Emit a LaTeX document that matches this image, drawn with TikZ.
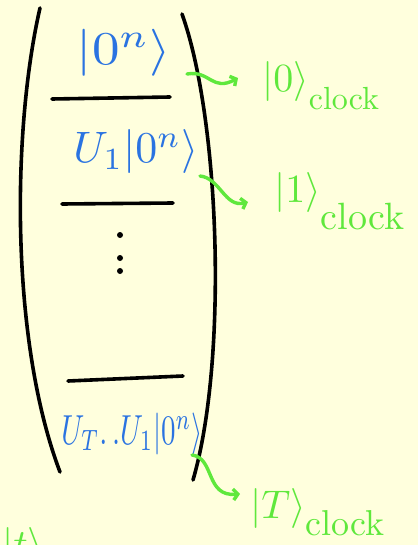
\documentclass[tikz,border=0pt]{standalone}
\usepackage{amsmath,amssymb}
\usepackage{graphicx}
\usepackage{tikz}
\usetikzlibrary{arrows.meta,positioning,calc}
\definecolor{paper}{RGB}{255,255,221}
\definecolor{ketblue}{RGB}{42,115,225}
\definecolor{clkgreen}{RGB}{95,232,60}
\newcommand{\hand}[3]{\scalebox{#1}[#2]{$#3$}}
\newcommand{\clockket}[3]{\hand{4}{4}{|#1\rangle}\raisebox{#2}{\scalebox{#3}{clock}}}
\tikzset{
  ket/.style={text=ketblue, inner sep=0pt},
  clk/.style={text=clkgreen, inner sep=0pt},
  wall/.style={line width=3.6pt, line cap=round},
  bar/.style={line width=3.6pt, line cap=round},
  arr/.style={clkgreen, line width=3.4pt, line cap=round, -{Straight Barb[length=4.5pt, width=11pt]}}}

\begin{document}
\begin{tikzpicture}[x=1pt, y=-1pt]
  \useasboundingbox (0,0) rectangle (418,545);
  \fill[paper] (0,0) rectangle (418,545);
  \clip (0,0) rectangle (418,545);
  \draw[wall] (40,8) .. controls (12,130) and (10,340) .. (60,472);
  \draw[wall] (182,14) .. controls (220,120) and (228,360) .. (193,480);
  \draw[bar] (52,99) -- (170,97);
  \draw[bar] (62,204) -- (173,203);
  \draw[bar] (68,381) -- (183,376);
  \foreach \y in {235,258,271} \fill (120,\y) circle (3);
  \node[ket] (k0) at (124,53) {\hand{5.5}{4.7}{|0^n\rangle}};
  \node[ket] (k1) at (136,152) {\hand{4.4}{4.4}{U_1|0^n\rangle}};
  \node[ket] (kT) at (132,434) {\hand{2.9}{4.2}{U_T{\ldotp\ldotp}U_1|0^n\rangle}};
  \node[clk, anchor=base west] (c0) at (262,92) {\clockket{0}{-18pt}{3.2}};
  \node[clk, anchor=base west] (c1) at (274,203) {\clockket{1}{-26pt}{3.8}};
  \node[clk, anchor=base west] (cT) at (250,518) {\clockket{T}{-17pt}{3.6}};
  \node[clk, anchor=base west] (cx) at (2,557) {\hand{4}{4}{|t\rangle}};
  \coordinate (a0) at (187,74);
  \coordinate (a1) at (200,176);
  \coordinate (aT) at (192,455);
  \draw[arr] (a0) .. controls (210,70) and (212,92) .. (238,78);
  \draw[arr] (a1) .. controls (220,178) and (225,208) .. (248,202);
  \draw[arr] (aT) .. controls (215,458) and (205,497) .. (240,494);
\end{tikzpicture}
\end{document}
